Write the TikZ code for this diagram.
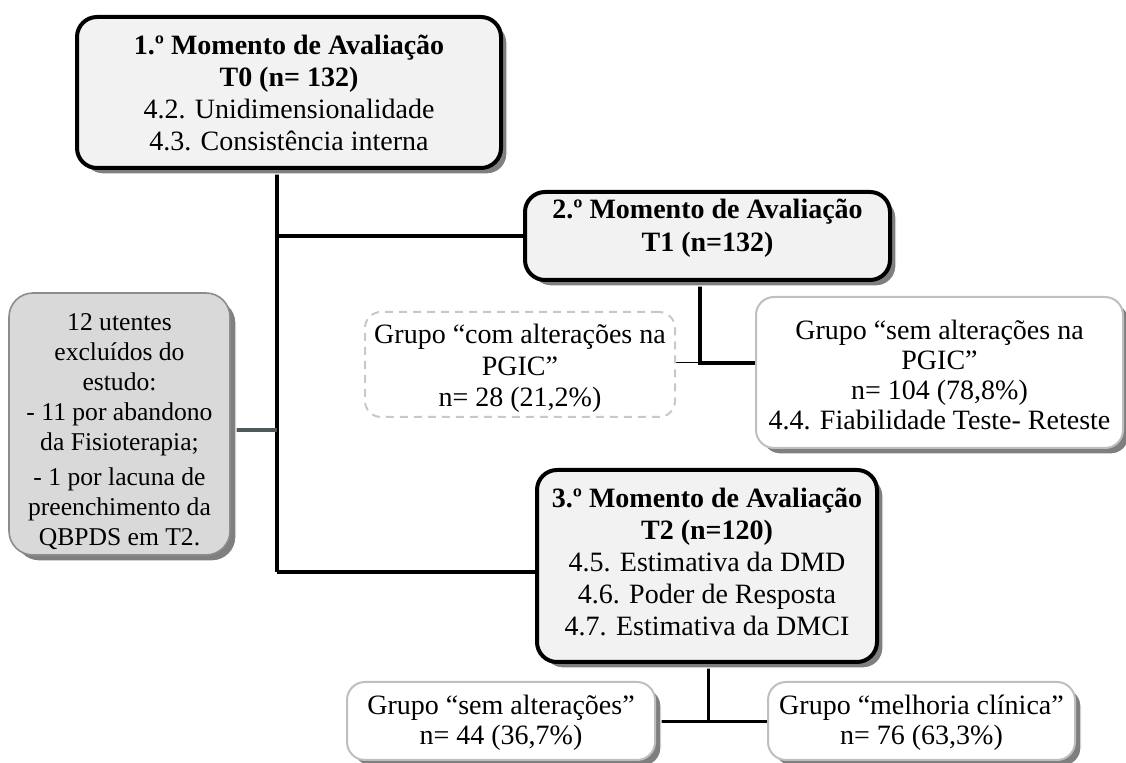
\documentclass[tikz,border=0pt]{standalone}
\usepackage{fontspec}
\setmainfont{Liberation Serif}
\usetikzlibrary{backgrounds,calc}
\definecolor{boxfill}{HTML}{F2F2F2}
\definecolor{leftfill}{HTML}{D9D9D9}
\definecolor{leftborder}{HTML}{8C8C8C}
\definecolor{shadowgray}{HTML}{7F7F7F}
\definecolor{lightborder}{HTML}{BFBFBF}
\definecolor{dashgray}{HTML}{C8C8C8}
\definecolor{slateline}{HTML}{4E5A5A}
\tikzset{
  shadowed/.style={preaction={fill=shadowgray, draw=white, line width=0.6pt,
      transform canvas={xshift=3pt,yshift=-3pt}}},
  mainbox/.style={draw=black, line width=2pt, fill=boxfill, rounded corners=10pt,
      inner sep=0pt, shadowed},
  leftbox/.style={draw=leftborder, line width=0.8pt, fill=leftfill, rounded corners=12pt,
      inner sep=0pt, shadowed},
  groupbox/.style={draw=lightborder, line width=1pt, fill=white, rounded corners=9pt,
      inner sep=0pt, shadowed},
  dashbox/.style={draw=dashgray, line width=1pt, dash pattern=on 4pt off 3pt,
      rounded corners=8pt, inner sep=0pt},
  txt/.style={inner sep=0pt, align=center, font=\fontsize{14}{16}\selectfont},
  txtleft/.style={inner sep=0pt, align=center, font=\fontsize{12.8}{15}\selectfont},
  txtgroup/.style={inner sep=0pt, align=center, font=\fontsize{14}{15}\selectfont},
  thickline/.style={draw=black, line width=2pt},
  midline/.style={draw=black, line width=1.5pt},
  thinline/.style={draw=black, line width=0.5pt},
  greyline/.style={draw=slateline, line width=2pt},
}
\begin{document}
\begin{tikzpicture}[x=0.5pt,y=-0.5pt]
\useasboundingbox (0,0) rectangle (1126,763);

% boxes
\node[mainbox, minimum width=212pt, minimum height=75.5pt] (b1) at (289,92.5) {};
\node[mainbox, minimum width=182.5pt, minimum height=44pt] (b2) at (707.5,236) {};
\node[mainbox, minimum width=170pt, minimum height=96pt] (b3) at (707,566) {};
\node[leftbox, minimum width=110.5pt, minimum height=131pt] (lb) at (119.5,424) {};
\node[dashbox, minimum width=155pt, minimum height=52.5pt] (db) at (520,364.5) {};
\node[groupbox, minimum width=183.5pt, minimum height=75.5pt] (rb) at (939.5,372.5) {};
\node[groupbox, minimum width=154pt, minimum height=39pt] (bl) at (501,721) {};
\node[groupbox, minimum width=153.5pt, minimum height=39pt] (br) at (921.5,721) {};

% texts
\node[txt] (b1t) at ($(b1.center)+(0,0.5)$)
  {\textbf{1.º Momento de Avaliação}\\\textbf{T0 (n= 132)}\\4.2. Unidimensionalidade\\4.3. Consistência interna};
\node[txt, font=\fontsize{14}{16.5}\selectfont] (b2t) at ($(b2.center)+(0,-7.5)$)
  {\textbf{2.º Momento de Avaliação}\\\textbf{T1 (n=132)}};
\node[txt] (b3t) at ($(b3.center)+(0,-4)$)
  {\textbf{3.º Momento de Avaliação}\\\textbf{T2 (n=120)}\\4.5. Estimativa da DMD\\4.6. Poder de Resposta\\4.7. Estimativa da DMCI};
\node[txtleft] (lbt) at ($(lb.center)+(0,8)$)
  {12 utentes\\excluídos do\\estudo:\\- 11 por abandono\\da Fisioterapia;\\[2.5pt]- 1 por lacuna de\\preenchimento da\\QBPDS em T2.};
\node[txt, font=\fontsize{14}{15.75}\selectfont] (dbt) at ($(db.center)+(0,4)$)
  {Grupo “com alterações na\\PGIC”\\n= 28 (21,2\%)};
\node[txtgroup] (rbt) at ($(rb.center)+(0,2.5)$)
  {Grupo “sem alterações na\\PGIC”\\n= 104 (78,8\%)\\4.4. Fiabilidade Teste- Reteste};
\node[txtgroup] (blt) at ($(bl.center)+(0,2)$)
  {Grupo “sem alterações”\\n= 44 (36,7\%)};
\node[txtgroup] (brt) at ($(br.center)+(0,2)$)
  {Grupo “melhoria clínica”\\n= 76 (63,3\%)};

% junctions
\coordinate (jtop) at (277,168);
\coordinate (jl) at (277,430);
\coordinate (j3) at (277,572);
\coordinate (j2) at (700,363);
\coordinate (j4) at (708,722);

\begin{pgfonlayer}{background}
  \draw[thickline] (jtop) -- (j3);
  \draw[thickline] (jtop |- b2.west) -- (b2.west);
  \draw[thickline] (j3) -- (j3 -| b3.west);
  \draw[greyline] (jl -| lb.east) -- (jl);
  \draw[thickline] (j2 |- b2.south) -- (j2) -- (j2 -| rb.west);
  \draw[thinline] (j2 -| db.east) -- (j2);
  \draw[midline] (j4 |- b3.south) -- (j4);
  \draw[midline] (j4 -| bl.east) -- (j4 -| br.west);
\end{pgfonlayer}
\end{tikzpicture}
\end{document}
